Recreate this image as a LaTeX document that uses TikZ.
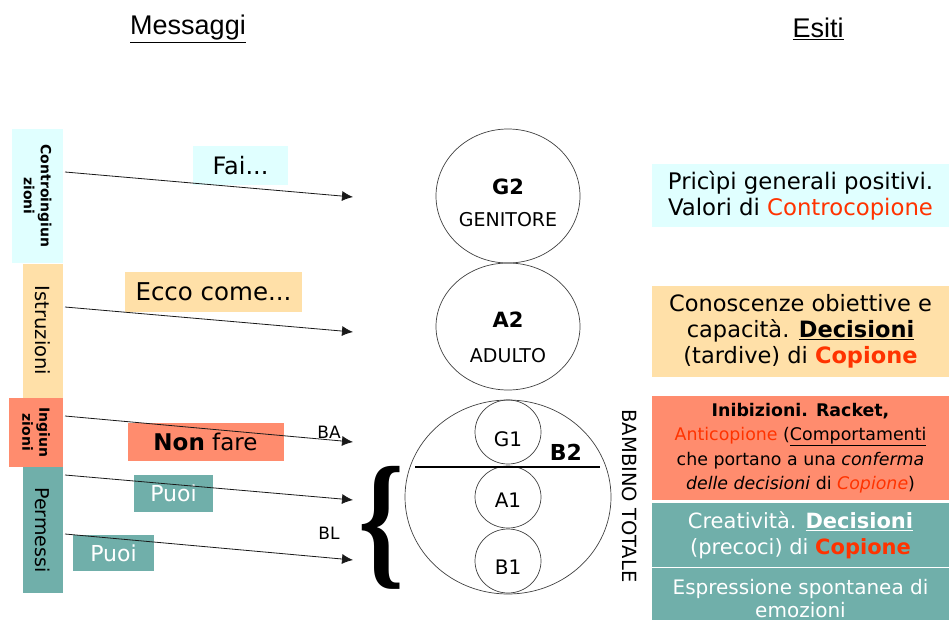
\documentclass[tikz,border=0pt]{standalone}
\usepackage{fontspec}
\setmainfont{DejaVu Sans}
\newfontfamily\titolo{Liberation Sans}
\newfontfamily\serifo{Liberation Serif}
\usetikzlibrary{arrows.meta,shapes.geometric}
\definecolor{azzurro}{HTML}{E0FFFF}
\definecolor{sabbia}{HTML}{FFE0A8}
\definecolor{salmone}{HTML}{FF8C6E}
\definecolor{ottanio}{HTML}{70AFAA}
\definecolor{rosso}{HTML}{FF3300}
\newcommand{\corpo}[2]{\fontsize{#1}{#2}\selectfont}
\begin{document}
\begin{tikzpicture}[x=1pt,y=-1pt,
    fascia/.style={fill=#1, inner sep=0pt, rotate=-90, align=center},
    cartello/.style={fill=#1, inner sep=0pt, font=\corpo{22}{22}},
    esito/.style={fill=#1, inner sep=0pt, minimum width=297pt, align=center, font=\corpo{21}{26}},
    freccia/.style={-{Latex[length=11pt,width=10pt]}, line width=0.8pt, black!90},
    stato/.style={draw=black!75, ellipse, inner sep=0pt, line width=0.7pt}]
    \useasboundingbox (0,0) rectangle (949,620);
    % titoli
    \node (messaggi) at (188,29) {\titolo\corpo{27}{27}\underline{Messaggi}};
    \node (esiti) at (818,29) {\titolo\corpo{27}{27}\underline{Esiti}};
    % fasce a sinistra
    \node[fascia=azzurro, minimum width=134pt, minimum height=51pt, font=\bfseries\corpo{14}{17}] (contro) at (37.5,196) {Controingiun\\zioni};
    \node[fascia=sabbia, minimum width=134pt, minimum height=40pt, font=\corpo{19.5}{22}] (istr) at (43,330.5) {Istruzioni};
    \node[fascia=salmone, minimum width=69pt, minimum height=54pt, font=\bfseries\corpo{14}{17}] (ingiun) at (36,432.5) {Ingiun\\zioni};
    \node[fascia=ottanio, minimum width=126pt, minimum height=40pt, font=\corpo{19}{22}] (perm) at (43,530) {Permessi};
    % messaggi
    \node[cartello=azzurro, minimum width=95pt, minimum height=39pt, font=\corpo{24}{24}] (fai) at (240.5,165.5) {Fai...};
    \node[cartello=sabbia, minimum width=177pt, minimum height=40pt, font=\corpo{24.5}{24.5}] (ecco) at (213.5,292) {Ecco come...};
    \node[cartello=salmone, minimum width=156pt, minimum height=38pt, font=\corpo{23}{23}] (nonfare) at (205.5,442) {\textbf{Non} fare};
    \node[cartello=ottanio, minimum width=79pt, minimum height=37pt, text=white] (puoiA) at (173.5,493.5) {Puoi};
    \node[cartello=ottanio, minimum width=81pt, minimum height=36pt, text=white] (puoiB) at (113.5,553) {Puoi};
    % frecce
    \foreach \ya/\yb [count=\i] in {172/197,307/332,416/442,475/500,534/560}{
        \coordinate (da\i) at (65,\ya);
        \coordinate (a\i) at (353,\yb);
        \draw[freccia] (da\i) -- (a\i);
    }
    \node[font=\corpo{17}{17}] (BA) at (329,432) {BA};
    \node[font=\corpo{17}{17}] (BL) at (329,533) {BL};
    \node[inner sep=0pt] (graffa) at (381.5,527.5) {\resizebox*{46pt}{123pt}{\serifo\bfseries\{}};
    % stati dell'io
    \node[stato, minimum width=144pt, minimum height=134pt] (G2) at (508,196) {};
    \node[stato, minimum width=144pt, minimum height=127pt] (A2) at (508,326.5) {};
    \node[stato, minimum width=206pt, minimum height=194pt] (B2) at (508,497) {};
    \node[stato, minimum width=66pt, minimum height=64pt] (G1) at (508,432) {};
    \node[stato, minimum width=66pt, minimum height=62pt] (A1) at (508,497) {};
    \node[stato, minimum width=66pt, minimum height=64pt] (B1) at (508,561) {};
    \draw[line width=1.8pt] (415,467) -- (600,467);
    \node[font=\bfseries\corpo{21}{21}] (g2t) at (508,187) {G2};
    \node[font=\corpo{19}{19}] (genitore) at (508,220) {GENITORE};
    \node[font=\bfseries\corpo{21}{21}] (a2t) at (508,320) {A2};
    \node[font=\corpo{19}{19}] (adulto) at (508,356) {ADULTO};
    \node[font=\corpo{20}{20}] (g1t) at (508,439) {G1};
    \node[font=\bfseries\corpo{22}{22}] (b2t) at (566,452) {B2};
    \node[font=\corpo{20}{20}] (a1t) at (508,500) {A1};
    \node[font=\corpo{20}{20}] (b1t) at (508,567) {B1};
    \node[rotate=-90, font=\corpo{19.5}{19.5}] (totale) at (630,496) {BAMBINO TOTALE};
    % esiti
    \node[esito=azzurro, minimum height=63pt, font=\corpo{22.8}{26}] (e1) at (800.5,195.5) {Pricìpi generali positivi.\\Valori di \textcolor{rosso}{Controcopione}};
    \node[esito=sabbia, minimum height=91pt, font=\corpo{22.5}{26}] (e2) at (800.5,331.5) {Conoscenze obiettive e\\capacità. \underline{\textbf{Decisioni}}\\(tardive) di \textcolor{rosso}{\textbf{Copione}}};
    \node[esito=salmone, minimum height=104pt, font=\corpo{17.4}{24.5}] (e3) at (800.5,448) {\textbf{Inibizioni. Racket,}\\\textcolor{rosso}{Anticopione} (\underline{Comportamenti}\\che portano a una \textit{conferma}\\\textit{delle decisioni} di \textcolor{rosso}{\textit{Copione}})};
    \node[esito=ottanio, minimum height=64pt, text=white] (e4) at (800.5,535) {Creatività. \underline{\textbf{Decisioni}}\\(precoci) di \textcolor{rosso}{\textbf{Copione}}};
    \node[esito=ottanio, minimum height=62pt, text=white, font=\corpo{20}{23}] (e5) at (800.5,599) {Espressione spontanea di\\emozioni};
\end{tikzpicture}
\end{document}
